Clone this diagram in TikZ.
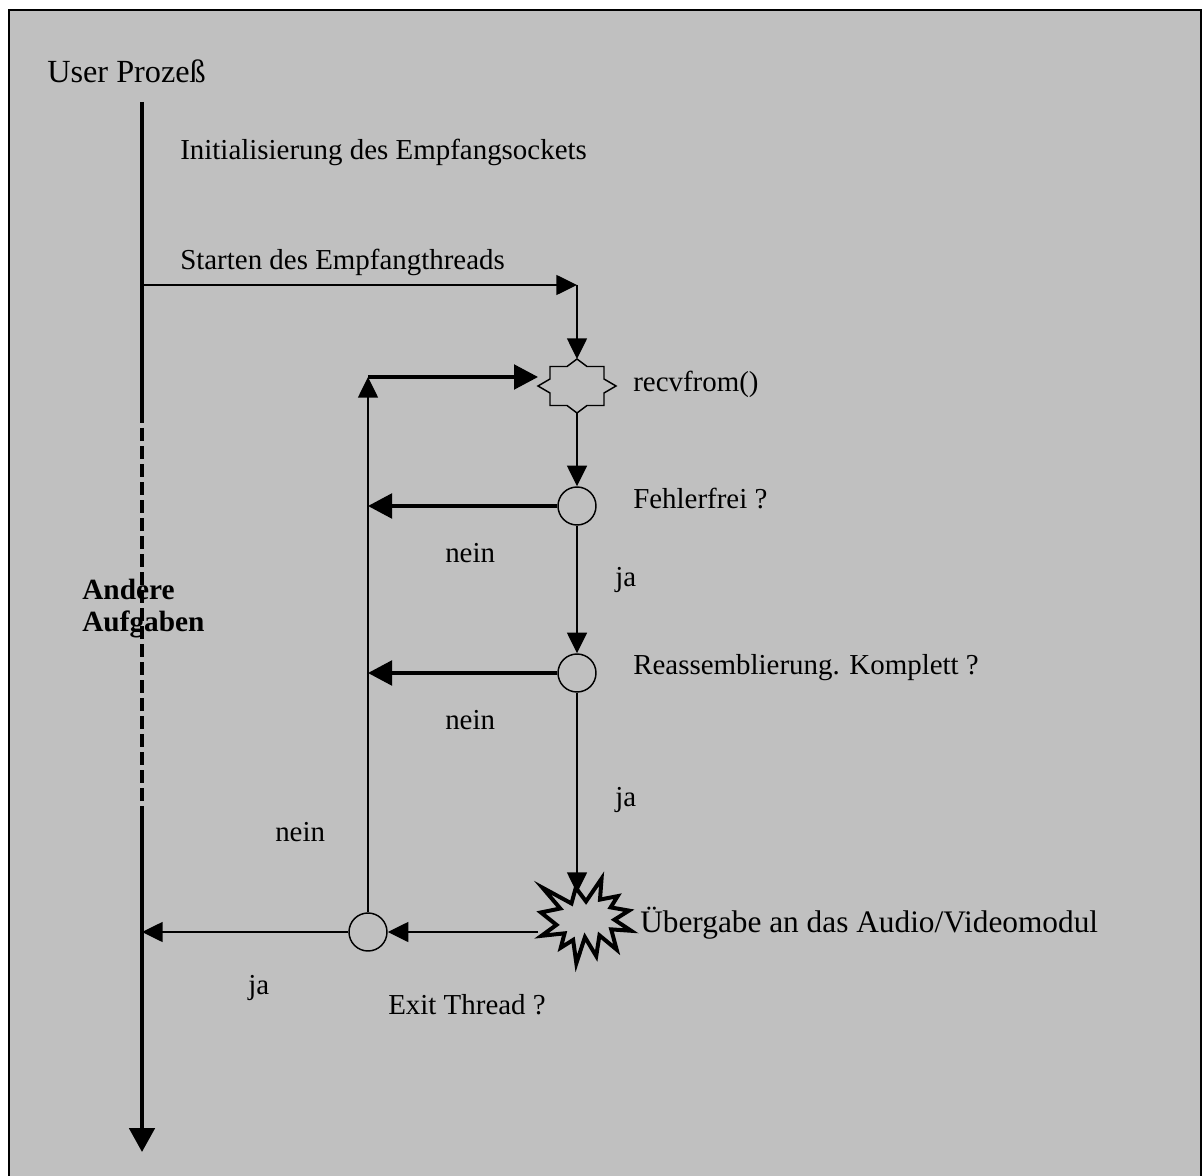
\documentclass[tikz,border=0pt]{standalone}
\usepackage{fontspec}
\setmainfont{Liberation Serif}
\usetikzlibrary{arrows.meta}
\definecolor{bg}{HTML}{C0C0C0}
\begin{document}
\begin{tikzpicture}[x=0.75pt,y=-0.75pt,
  thinln/.style={line width=1.1pt},
  thickln/.style={line width=2.4pt},
  mainln/.style={line width=3pt},
  tipS/.style={-{Triangle[length=15.5pt,width=15pt]}},
  tipL/.style={-{Triangle[length=18pt,width=18.5pt]}},
  lbl/.style={font=\fontsize{21.7}{26}\selectfont, anchor=base west, inner sep=0pt},
  blbl/.style={font=\bfseries\fontsize{22}{26}\selectfont, anchor=base west, inner sep=0pt},
  dec/.style={circle, draw, line width=1.1pt, minimum size=28.5pt, inner sep=0pt},
]
\useasboundingbox (0,0) rectangle (1202,1176);
\fill[white] (0,0) rectangle (1202,1176);
\begin{scope}
\clip (0,0) rectangle (1202,1176);
\filldraw[fill=bg, draw=black, line width=1.5pt] (9,10) rectangle (1201,1200);
\end{scope}

% coordinates
\coordinate (mainTop) at (142,102);
\coordinate (dashA) at (142,410);
\coordinate (dashB) at (142,808);
\coordinate (mainBot) at (142,1152);
\coordinate (startL) at (142,285);
\coordinate (startR) at (577,285);
\coordinate (recv) at (577,386);
\coordinate (recvN) at (577,359);
\coordinate (recvS) at (577,413);
\coordinate (recvW) at (538,377);
\coordinate (loopTop) at (368,377);
\coordinate (boomN) at (577,893);
\coordinate (boomW) at (538,932);

% nodes
\node[dec] (c1) at (577,506) {};
\node[dec] (c2) at (577,673) {};
\node[dec] (exit) at (368,932) {};

% recvfrom star
\draw[thinln, fill=bg] (recv) ++(0,-27) -- ++(10,7.5) -- ++(17,0) -- ++(0,12.5) -- ++(12,7)
  -- ++(-12,7) -- ++(0,12.5) -- ++(-17,0) -- ++(-10,7.5) -- ++(-10,-7.5) -- ++(-17,0)
  -- ++(0,-12.5) -- ++(-12,-7) -- ++(12,-7) -- ++(0,-12.5) -- ++(17,0) -- cycle;

% explosion
\begin{scope}[shift={(586,921)}, scale=0.92, shift={(-586,-921)}]
\draw[line width=3pt, fill=bg] (586.0,899.7) -- (602.9,875) -- (601.2,897.7) -- (620.4,894.0)
  -- (612.8,906.2) -- (632.7,909.7) -- (616.9,919.6) -- (635.0,931.6) -- (613.4,930.1)
  -- (619.3,952.1) -- (600.6,936.6) -- (597.1,959.1) -- (584.8,938.6) -- (575.5,967)
  -- (572.0,941.6) -- (558.6,950.0) -- (562.7,934.4) -- (537.6,937.1) -- (553.9,925.2)
  -- (537.0,911.7) -- (558.0,907.4) -- (538.7,884.8) -- (570.2,901.9) -- (574.9,884.8) -- cycle;
\end{scope}

% main line
\draw[mainln] (mainTop) -- (dashA);
\draw[mainln, dash pattern=on 9.75pt off 3.75pt] (dashA) -- (dashB);
\draw[mainln, -{Triangle[length=18pt,width=19pt]}] (dashB) -- (mainBot);

% connectors
\draw[thinln, tipS] (startL) -- (startR);
\draw[thinln, tipS] (startR) -- (recvN);
\draw[thinln, tipS] (recvS) -- (c1.north);
\draw[thinln, tipS] (c1.south) -- (c2.north);
\draw[thinln, tipS] (c2.south) -- (boomN);
\draw[thinln, tipS] (boomW) -- (exit.east);
\draw[thinln, tipS] (exit.west) -- (exit.west -| mainTop);
\draw[thinln, tipS] (exit.north) -- (loopTop);
\draw[thickln, tipL] (loopTop) -- (recvW);
\draw[thickln, tipL] (c1.west) -- (c1.west -| loopTop);
\draw[thickln, tipL] (c2.west) -- (c2.west -| loopTop);

% labels
\node[lbl, font=\fontsize{24.2}{28}\selectfont] (tUser) at (47,83) {User Prozeß};
\node[lbl] (tInit) at (180,160) {Initialisierung des Empfangsockets};
\node[lbl] (tStart) at (180,270) {Starten des Empfangthreads};
\node[lbl] (tRecv) at (633,392) {recvfrom()};
\node[lbl] (tFehl) at (633,508) {Fehlerfrei ?};
\node[lbl] (tN1) at (445,562) {nein};
\node[lbl] (tJ1) at (615,586) {ja};
\node[lbl] (tReas) at (633,674) {Reassemblierung. Komplett ?};
\node[lbl] (tN2) at (445,729) {nein};
\node[lbl] (tJ2) at (615,806) {ja};
\node[lbl] (tN3) at (275,841) {nein};
\node[lbl, font=\fontsize{23.5}{28}\selectfont] (tUeb) at (640,932) {Übergabe an das Audio/Videomodul};
\node[lbl] (tJ3) at (248,994) {ja};
\node[lbl] (tExit) at (388,1014) {Exit Thread ?};
\node[blbl] (tAnd) at (82,599) {Andere};
\node[blbl] (tAuf) at (82,631) {Aufgaben};
\end{tikzpicture}
\end{document}
